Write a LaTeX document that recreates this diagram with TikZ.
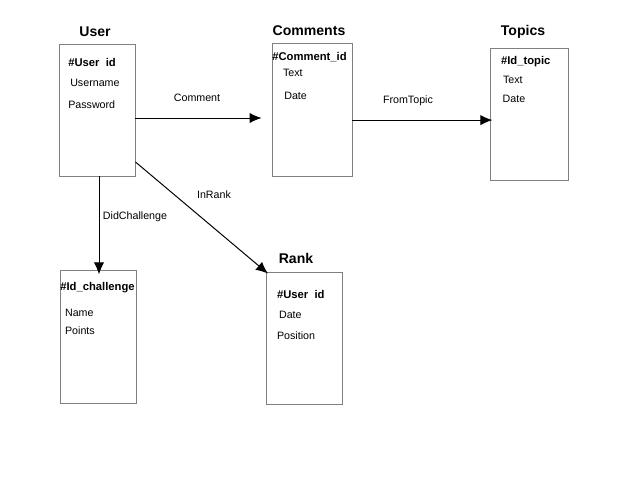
\documentclass[tikz,border=0pt]{standalone}
\usepackage{fontspec}
\setmainfont{Liberation Sans}
\usetikzlibrary{arrows.meta,positioning}
\definecolor{boxgray}{HTML}{808080}

\begin{document}
\begin{tikzpicture}[
        font=\fontsize{7.6}{9}\selectfont,
        entity/.style={draw=boxgray,line width=0.7pt,fill=white,
          minimum width=1.9cm,minimum height=3.3cm,inner sep=0pt},
        title/.style={font=\fontsize{10}{12}\selectfont\bfseries},
        key/.style={anchor=west,inner sep=0pt,font=\fontsize{8}{10}\selectfont\bfseries},
        field/.style={anchor=west,inner sep=0pt},
        lbl/.style={inner sep=0pt},
        arr/.style={-{Latex[length=3mm,width=2.6mm]},line width=0.7pt,draw=black}
      ]
        \useasboundingbox (0,0) rectangle (16,-12);
        % entities
        \node[entity] (user) at (2.425,-2.75) {};
        \node[entity,minimum width=2cm,minimum height=3.325cm] (comments) at (7.8,-2.7375) {};
        \node[entity,minimum width=1.95cm] (topics) at (13.225,-2.85) {};
        \node[entity,minimum height=3.325cm] (challenge) at (2.45,-8.4125) {};
        \node[entity] (rank) at (7.6,-8.45) {};
        % titles
        \node[title] (usertitle) at (2.375,-0.8) {User};
        \node[title] (commentstitle) at (7.725,-0.775) {Comments};
        \node[title] (topicstitle) at (13.075,-0.8) {Topics};
        \node[title] (ranktitle) at (7.4,-6.45) {Rank};
        % fields
        \node[key] (userid) at (1.7,-1.55) {\#User\ \ id};
        \node[field] (username) at (1.75,-2.075) {Username};
        \node[field] (password) at (1.7,-2.625) {Password};
        \node[key] (commentid) at (6.8,-1.42) {\#Comment\_id};
        \node[field] (ctext) at (7.07,-1.83) {Text};
        \node[field] (cdate) at (7.1,-2.4) {Date};
        \node[key] (topicid) at (12.52,-1.54) {\#Id\_topic};
        \node[field] (ttext) at (12.57,-1.99) {Text};
        \node[field] (tdate) at (12.56,-2.46) {Date};
        \node[key] (challengeid) at (1.5,-7.2) {\#Id\_challenge};
        \node[field] (cname) at (1.62,-7.82) {Name};
        \node[field] (cpoints) at (1.62,-8.26) {Points};
        \node[key] (rankuserid) at (6.92,-7.37) {\#User\ \ id};
        \node[field] (rdate) at (6.97,-7.86) {Date};
        \node[field] (rposition) at (6.92,-8.38) {Position};
        % relations
        \coordinate (c1) at ([yshift=-0.2cm]user.east);
        \coordinate (c2) at ([yshift=-0.265cm]comments.east);
        \coordinate (c3) at ([yshift=-1.3cm]user.east);
        \coordinate (c4) at ([xshift=0.05cm]user.south);
        \draw[arr,shorten >=0.25cm] (c1) -- (c1 -| comments.west);
        \draw[arr,shorten >=-0.07cm] (c2) -- (c2 -| topics.west);
        \draw[arr,shorten >=-0.12cm] (c4) -- (c4 |- challenge.north);
        \draw[arr,shorten >=-0.08cm] (c3) -- (rank.north west);
        % labels
        \node[lbl] (lcomment) at (4.925,-2.45) {Comment};
        \node[lbl] (lfromtopic) at (10.2,-2.525) {FromTopic};
        \node[lbl] (ldidchallenge) at (3.375,-5.425) {DidChallenge};
        \node[lbl] (linrank) at (5.35,-4.875) {InRank};
      \end{tikzpicture}
\end{document}
